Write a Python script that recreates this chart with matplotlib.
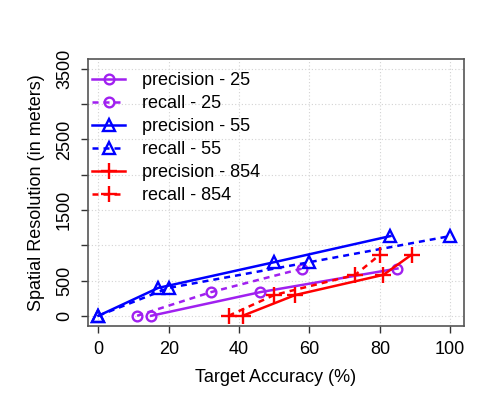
import matplotlib.pyplot as plt

plt.rcParams['font.family'] = ['Liberation Sans', 'DejaVu Sans']

# values
prec25_x = [15, 46, 85]
prec25_y = [0, 335, 670]
rec25_x = [11, 32, 58]
rec25_y = [0, 335, 670]

prec55_x = [0, 17, 50, 83]
prec55_y = [0, 395, 760, 1130]
rec55_x = [0, 20, 60, 100]
rec55_y = [0, 395, 760, 1130]

prec854_x = [41, 56, 81, 89]
prec854_y = [0, 295, 580, 865]
rec854_x = [37, 50, 73, 80]
rec854_y = [0, 295, 580, 865]

x_ticks = [0, 20, 40, 60, 80, 100]
y_ticks = [0, 500, 1000, 1500, 2000, 2500, 3000, 3500]
y_labels = ["0", "500", "", "1500", "", "2500", "", "3500"]

purple = "#A020F0"
blue = "#0000FF"
red = "#FF0000"
dots = (0, (2.4, 2.0))
fs = 13

fig = plt.figure(figsize=(4.8, 4.0), dpi=100)
ax = fig.add_axes([87.5 / 480, 1 - 326 / 400, (464.3 - 87.5) / 480, (326 - 59) / 400])

common = dict(lw=1.8, markeredgewidth=1.7, markerfacecolor="none")
ax.plot(prec25_x, prec25_y, color=purple, marker="o", ms=7, ls="-", label="precision - 25", **common)
ax.plot(rec25_x, rec25_y, color=purple, marker="o", ms=7, ls=dots, label="recall - 25", **common)
ax.plot(prec55_x, prec55_y, color=blue, marker="^", ms=9, ls="-", label="precision - 55", **common)
ax.plot(rec55_x, rec55_y, color=blue, marker="^", ms=9, ls=dots, label="recall - 55", **common)
ax.plot(prec854_x, prec854_y, color=red, marker="+", ms=12, ls="-", label="precision - 854", **common)
ax.plot(rec854_x, rec854_y, color=red, marker="+", ms=12, ls=dots, label="recall - 854", **common)

ax.set_xlim(-3.1, 104)
ax.set_ylim(-145, 3640)
ax.set_xticks(x_ticks)
ax.set_yticks(y_ticks)
ax.set_yticklabels(y_labels, rotation=90, va="center")
ax.tick_params(labelsize=fs, length=5, width=1, direction="out", color="#333333")
ax.tick_params(axis="x", pad=5.5)
ax.tick_params(axis="y", pad=5.5)

ax.grid(True, color="#d3d3d3", ls=(0, (1, 2)), lw=0.8)
for s in ax.spines.values():
    s.set_color("#555555")
    s.set_linewidth(1.2)

ax.set_xlabel("Target Accuracy (%)", fontsize=fs, labelpad=8)
ax.set_ylabel("Spatial Resolution (in meters)", fontsize=fs, labelpad=8)

ax.legend(loc="upper left", bbox_to_anchor=(0.012, 0.95), frameon=False, fontsize=fs,
          handlelength=1.85, handletextpad=0.9, labelspacing=0.33, borderaxespad=0,
          borderpad=0, numpoints=1)

fig.savefig("out.png", dpi=100)
